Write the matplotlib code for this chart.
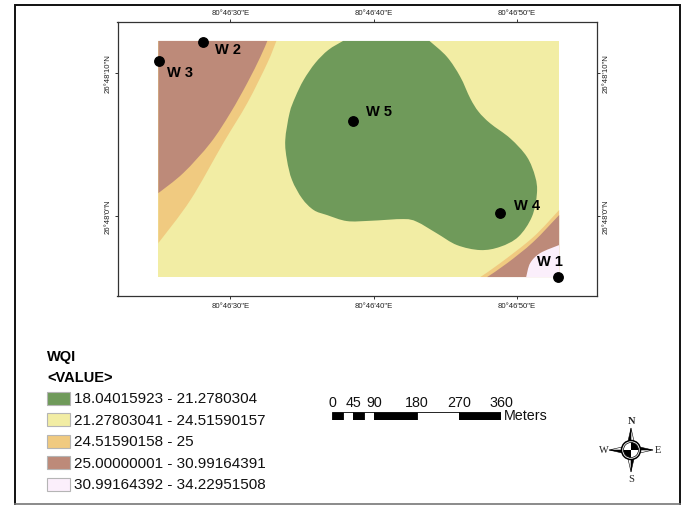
import numpy as np
import matplotlib
matplotlib.use('Agg')
import matplotlib.pyplot as plt
from matplotlib.path import Path
from matplotlib.patches import PathPatch, Rectangle, Circle, Wedge, Polygon
from matplotlib.ticker import FuncFormatter

plt.rcParams['font.family'] = ['Liberation Sans', 'DejaVu Sans']

# ------------------------
# Data (map coordinates are arc seconds past 80d46' E and 26d48' N)
# ------------------------
west, east = 24.98, 52.93
south, north = -4.25, 12.20

lon_ticks = [30, 40, 50]
lat_ticks = [0, 10]

well_names = ['W 1', 'W 2', 'W 3', 'W 4', 'W 5']
well_lon = [52.86, 28.12, 25.05, 48.82, 38.57]
well_lat = [-4.25, 12.16, 10.77, 0.21, 6.62]

green_lon = [43.89, 45.10, 46.03, 46.73, 47.31, 48.12, 49.52, 50.68, 51.26, 51.38, 51.03, 50.09, 48.82, 47.43,
             45.80, 44.41, 43.01, 42.08, 39.76, 38.13, 36.74, 35.81, 35.00, 34.30, 33.95, 33.83, 34.13, 34.53,
             35.11, 35.92, 36.83, 37.86]
green_lat = [12.20, 11.10, 9.71, 8.20, 7.27, 6.46, 5.41, 4.13, 2.74, 1.58, -0.05, -1.44, -2.14, -2.37,
             -2.02, -1.21, -0.40, -0.21, -0.33, -0.35, 0.07, 0.42, 1.23, 2.51, 3.90, 5.30, 7.18, 8.29,
             9.48, 10.66, 11.57, 12.20]

orange_nw_lon = [33.21, 32.58, 31.18, 29.51, 27.21, 24.98]
orange_nw_lat = [12.20, 10.66, 7.87, 5.09, 1.11, -1.88]
brown_nw_lon = [32.58, 32.09, 31.18, 30.00, 28.61, 26.72, 24.98]
brown_nw_lat = [12.20, 11.08, 9.27, 7.18, 5.09, 3.00, 1.60]

orange_se_lon = [47.43, 48.82, 51.12, 52.93]
orange_se_lat = [-4.25, -3.28, -1.47, 0.42]
brown_se_lon = [47.91, 49.31, 51.12, 52.93]
brown_se_lat = [-4.25, -3.28, -1.81, 0.07]
pale_se_lon = [50.63, 50.91, 51.61, 52.93]
pale_se_lat = [-4.25, -3.28, -2.58, -2.02]

class_labels = ['18.04015923 - 21.2780304', '21.27803041 - 24.51590157', '24.51590158 - 25',
                '25.00000001 - 30.99164391', '30.99164392 - 34.22951508']
class_colors = ['#6f9a5a', '#f2eda4', '#f0ca80', '#bd8a79', '#fbeffb']

scale_ticks = [0, 45, 90, 180, 270, 360]
scale_edges = [0, 22.5, 45, 67.5, 90, 180, 270, 360]

W, H = 682, 506


def px_axes(fig, x0, y0, x1, y1):
    # axes placed by its pixel box, y counted from the top of the image
    return fig.add_axes([x0 / W, 1 - y1 / H, (x1 - x0) / W, (y1 - y0) / H])


def zone(lons, lats, corners, color, ax):
    # smooth curve through the boundary points, straight edges along the raster border
    pts = np.column_stack([lons, lats])
    verts = [pts[0]]
    codes = [Path.MOVETO]
    for i in range(len(pts) - 1):
        before = pts[max(i - 1, 0)]
        after = pts[min(i + 2, len(pts) - 1)]
        verts += [pts[i] + (pts[i + 1] - before) / 6, pts[i + 1] - (after - pts[i]) / 6, pts[i + 1]]
        codes += [Path.CURVE4] * 3
    for c in corners:
        verts.append(c)
        codes.append(Path.LINETO)
    verts.append(pts[0])
    codes.append(Path.CLOSEPOLY)
    ax.add_patch(PathPatch(Path(verts, codes), facecolor=color, edgecolor='none'))


fig = plt.figure(figsize=(W / 100, H / 100), dpi=100, facecolor='white')

# ------------------------
# Page layer: outer frame, legend, north arrow
# ------------------------
page = fig.add_axes([0, 0, 1, 1])
page.set_xlim(0, W)
page.set_ylim(H, 0)
page.axis('off')
page.plot([14.5, 14.5, 680, 680], [505, 6, 6, 505], color='#111111', lw=1.4, solid_joinstyle='miter')
page.plot([14.5, 680], [505, 505], color='#777777', lw=1.2)

page.text(47, 357, 'WQI', fontsize=10.5, fontweight='bold', va='center')
page.text(47, 378, '<VALUE>', fontsize=10.5, fontweight='bold', va='center')
for i, (label, color) in enumerate(zip(class_labels, class_colors)):
    y = 399.5 + i * 21.4
    page.add_patch(Rectangle((47, y - 6.5), 23, 13, facecolor=color, edgecolor='#b5b5b5', lw=0.8))
    page.text(74, y, label, fontsize=11, va='center', color='#111111')

cx, cy = 631, 451
for dx, dy in [(0, -1), (1, 0), (0, 1), (-1, 0)]:
    tip = (cx + 22 * dx, cy + 22 * dy)
    page.add_patch(Polygon([tip, (cx + 5 * dy, cy - 5 * dx), (cx, cy)], facecolor='black', edgecolor='black', lw=0.4))
    page.add_patch(Polygon([tip, (cx - 5 * dy, cy + 5 * dx), (cx, cy)], facecolor='white', edgecolor='black', lw=0.4))
page.add_patch(Circle((cx, cy), 9.5, facecolor='white', edgecolor='black', lw=1.1))
page.add_patch(Wedge((cx, cy), 7.5, 270, 360, facecolor='black', edgecolor='none'))
page.add_patch(Wedge((cx, cy), 7.5, 90, 180, facecolor='black', edgecolor='none'))
page.add_patch(Circle((cx, cy), 7.5, fill=False, edgecolor='black', lw=0.5))
for letter, x, y in [('N', cx, 422), ('S', cx, 480), ('W', 604, 451), ('E', 658, 451)]:
    page.text(x, y, letter, fontsize=7.5, family='Liberation Serif', ha='center', va='center', color='#222222',
              fontweight='bold' if letter == 'N' else 'normal')

# ------------------------
# Map
# ------------------------
ax = px_axes(fig, 117.5, 23, 597, 297)
ax.set_xlim(22.13, 55.57)
ax.set_ylim(-5.57, 13.52)
ax.patch.set_alpha(0)

ax.add_patch(Rectangle((west, south), east - west, north - south, facecolor=class_colors[1], edgecolor='none'))
zone(orange_nw_lon, orange_nw_lat, [(west, north)], class_colors[2], ax)
zone(brown_nw_lon, brown_nw_lat, [(west, north)], class_colors[3], ax)
zone(orange_se_lon, orange_se_lat, [(east, south)], class_colors[2], ax)
zone(brown_se_lon, brown_se_lat, [(east, south)], class_colors[3], ax)
zone(pale_se_lon, pale_se_lat, [(east, south)], class_colors[4], ax)
zone(green_lon, green_lat, [], class_colors[0], ax)

ax.plot(well_lon, well_lat, 'o', color='black', markersize=6.8, zorder=5, clip_on=False)
label_offsets = [(-15, 11.5), (8, -5.5), (5.5, -7.5), (10, 5.5), (9, 7.5)]
for name, lon, lat, off in zip(well_names, well_lon, well_lat, label_offsets):
    ax.annotate(name, (lon, lat), xytext=off, textcoords='offset points', fontsize=10.5, fontweight='bold',
                ha='left', va='center', zorder=6)

ax.set_xticks(lon_ticks)
ax.set_yticks(lat_ticks)
ax.xaxis.set_major_formatter(FuncFormatter(lambda v, p: '80\u00b046\'%d"E' % v))
ax.yaxis.set_major_formatter(FuncFormatter(lambda v, p: '26\u00b048\'%d"N' % v))
ax.tick_params(axis='both', top=True, right=True, labeltop=True, labelright=True, length=2.5, width=0.7,
               color='#333333', labelsize=5.6, labelcolor='#222222', pad=1.5)
ax.tick_params(axis='y', labelrotation=90)
for t in ax.get_yticklabels():
    t.set_va('center')
for s in ax.spines.values():
    s.set_linewidth(0.9)
    s.set_color('#333333')

# ------------------------
# Scale bar
# ------------------------
sb = px_axes(fig, 332.3, 413, 501, 421)
sb.set_xlim(0, 360)
sb.set_ylim(0, 1)
for i in range(len(scale_edges) - 1):
    sb.barh(0.5, scale_edges[i + 1] - scale_edges[i], left=scale_edges[i], height=1,
            color='black' if i % 2 == 0 else 'white', edgecolor='black', linewidth=0.6)
sb.set_xticks(scale_ticks)
sb.set_yticks([])
sb.xaxis.tick_top()
sb.tick_params(axis='x', length=0, labelsize=10.3, pad=2.5, labelcolor='#111111')
for s in sb.spines.values():
    s.set_visible(False)
page.text(504, 416, 'Meters', fontsize=10.3, va='center', color='#111111')

fig.savefig('out.png', dpi=100)
